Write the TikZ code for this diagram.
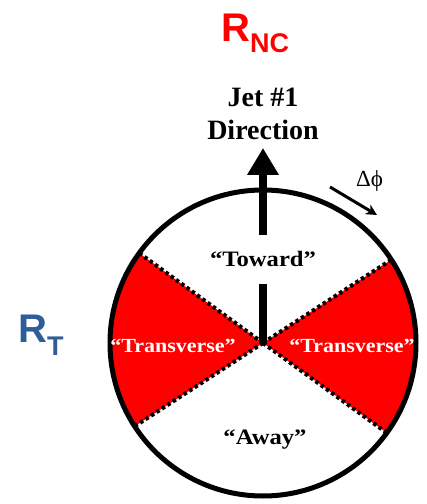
\documentclass[tikz,border=0pt]{standalone}
\usepackage{fontspec}
\setmainfont{Liberation Serif}
\setsansfont{Liberation Sans}
\usetikzlibrary{arrows.meta}
\definecolor{sectred}{RGB}{255,0,0}
\definecolor{rtblue}{RGB}{46,94,152}
\newcommand{\subsz}{\fontsize{27}{27}\selectfont}

\begin{document}
\begin{tikzpicture}[x=1pt, y=1pt,
    rlabel/.style={anchor=base west, inner sep=0pt, font=\sffamily\bfseries\fontsize{40}{40}\selectfont},
    head/.style={anchor=base, inner sep=0pt, font=\bfseries\fontsize{28}{28}\selectfont},
    zone/.style={font=\bfseries\fontsize{22}{22}\selectfont, xscale=1.12},
    dotline/.style={line width=4pt, dash pattern=on 3.5pt off 3pt},
    shaft/.style={line width=8pt}]
  \useasboundingbox (0,0) rectangle (427,504);
  \coordinate (c) at (263,161);
  \coordinate (tip) at (263,356);
  \coordinate (dphiA) at (330,317);
  \coordinate (dphiB) at (377,289);

  \foreach \s/\e in {-36/33, 144/213}
    \fill[sectred] (c) -- ++(\s:153) arc[start angle=\s, end angle=\e, radius=153] -- cycle;

  \node[circle, minimum size=306pt, inner sep=0pt, outer sep=0pt] (ring) at (c) {};
  \foreach \a in {33,144,213,-36}
    \draw[dotline] (c) -- (ring.\a);
  \draw[line width=5pt] (c) circle[radius=153];

  \node[zone, anchor=base, inner xsep=2pt, inner ysep=17pt] (toward) at (263,237) {“Toward”};
  \node[zone, anchor=base, text=white, font=\bfseries\fontsize{20}{20}\selectfont, xscale=0.98] (transL) at (173,151) {“Transverse”};
  \node[zone, anchor=base, text=white, font=\bfseries\fontsize{20}{20}\selectfont, xscale=0.98] (transR) at (352,151) {“Transverse”};
  \node[zone, anchor=base] (away) at (265,59) {“Away”};

  \draw[shaft] (c) -- (toward.south);
  \draw[shaft, -{Triangle[length=27pt, width=30pt]}] (toward.north) -- (tip);

  \node[head] (jet) at (263,397) {Jet \#1};
  \node[head] (dir) at (263,364) {Direction};

  \node[anchor=base west, inner sep=0pt, font=\fontsize{23}{23}\selectfont] (dphi) at (356,317) {Δϕ};
  \draw[line width=3pt, -{Stealth[length=11pt, width=11pt]}] (dphiA) -- (dphiB);

  \node[rlabel, text=sectred] (rnc) at (221,462) {R\raisebox{-11pt}{\subsz NC}};
  \node[rlabel, text=rtblue] (rt) at (18,161) {R\raisebox{-13pt}{\subsz T}};
\end{tikzpicture}
\end{document}
